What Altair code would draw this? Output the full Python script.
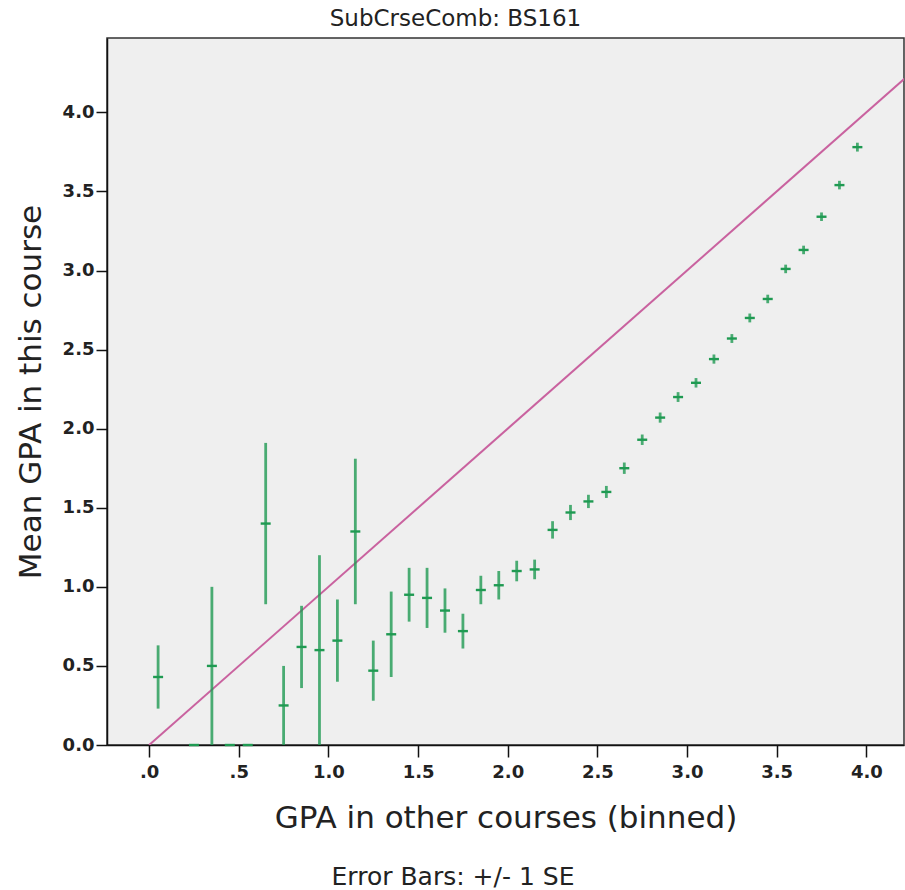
import altair as alt
import pandas as pd

TITLE = "SubCrseComb: BS161"
X_TITLE = "GPA in other courses (binned)"
Y_TITLE = "Mean GPA in this course"
NOTE = "Error Bars: +/- 1 SE"

# binned GPA in other courses (bin centres)
bins = [0.05, 0.25, 0.35, 0.45, 0.55, 0.65, 0.75, 0.85, 0.95, 1.05,
        1.15, 1.25, 1.35, 1.45, 1.55, 1.65, 1.75, 1.85, 1.95, 2.05,
        2.15, 2.25, 2.35, 2.45, 2.55, 2.65, 2.75, 2.85, 2.95, 3.05,
        3.15, 3.25, 3.35, 3.45, 3.55, 3.65, 3.75, 3.85, 3.95]
# mean GPA in this course
means = [0.43, 0.00, 0.50, 0.00, 0.00, 1.40, 0.25, 0.62, 0.60, 0.66,
         1.35, 0.47, 0.70, 0.95, 0.93, 0.85, 0.72, 0.98, 1.01, 1.10,
         1.11, 1.36, 1.47, 1.54, 1.60, 1.75, 1.93, 2.07, 2.20, 2.29,
         2.44, 2.57, 2.70, 2.82, 3.01, 3.13, 3.34, 3.54, 3.78]
# standard errors
ses = [0.20, 0.00, 0.50, 0.00, 0.00, 0.51, 0.25, 0.26, 0.60, 0.26,
       0.46, 0.19, 0.27, 0.17, 0.19, 0.14, 0.11, 0.09, 0.09, 0.065,
       0.062, 0.055, 0.048, 0.042, 0.038, 0.036, 0.033, 0.032, 0.031, 0.030,
       0.029, 0.028, 0.028, 0.027, 0.027, 0.027, 0.027, 0.027, 0.028]

# identity reference line y = x
ref_x = [0.0, 4.5]
ref_y = [0.0, 4.5]

x_ticks = [0.0, 0.5, 1.0, 1.5, 2.0, 2.5, 3.0, 3.5, 4.0]
y_ticks = [0.0, 0.5, 1.0, 1.5, 2.0, 2.5, 3.0, 3.5, 4.0]

GREEN = "#1f9a52"
PINK = "#c9629f"
FONT = "DejaVu Sans"

df = pd.DataFrame({"bin": bins, "mean": means, "se": ses})
df["lo"] = (df["mean"] - df["se"]).clip(lower=0)
df["hi"] = df["mean"] + df["se"]
ref = pd.DataFrame({"bin": ref_x, "mean": ref_y})
note = pd.DataFrame({"t": [NOTE]})

xscale = alt.Scale(domain=[-0.235, 4.21], nice=False, zero=False)
yscale = alt.Scale(domain=[0, 4.47], nice=False, zero=False)

xaxis = alt.Axis(values=x_ticks, tickSize=12, labelPadding=6,
                 labelExpr="datum.value < 1 ? replace(format(datum.value, '.1f'), '0.', '.') : format(datum.value, '.1f')",
                 titlePadding=22)
yaxis = alt.Axis(values=y_ticks, tickSize=11, labelPadding=2, format=".1f",
                 titlePadding=15)

X = alt.X("bin:Q", scale=xscale, axis=xaxis, title=X_TITLE)
Y = alt.Y("mean:Q", scale=yscale, axis=yaxis, title=Y_TITLE)

bars = alt.Chart(df).mark_rule(color=GREEN, strokeWidth=2.8, opacity=0.8).encode(
    x=X,
    y=alt.Y("lo:Q", scale=yscale, axis=yaxis, title=Y_TITLE),
    y2="hi:Q",
)

caps = alt.Chart(df).mark_point(shape="M-1,0L1,0", size=100, filled=False,
                                strokeWidth=2.4, color=GREEN, opacity=1).encode(
    x=X, y=Y
)

line = alt.Chart(ref).mark_line(color=PINK, strokeWidth=2, clip=True).encode(
    x=X, y=Y
)

txt = alt.Chart(note).mark_text(font=FONT, fontSize=25, color="#222222",
                                align="center", baseline="middle").encode(
    x=alt.value(346), y=alt.value(839), text="t:N"
)

chart = alt.layer(line, bars, caps, txt).properties(
    width=797, height=707,
    title=alt.TitleParams(TITLE, font=FONT, fontSize=23, fontWeight="normal",
                          color="#222222", anchor="middle", frame="group",
                          dx=-50, dy=24, offset=8, baseline="bottom"),
    autosize=alt.AutoSizeParams(type="none"),
    padding={"left": 107, "top": 38, "right": 1, "bottom": 145},
).configure_view(
    fill="#efefef", stroke="#333333", strokeWidth=1.5
).configure_axis(
    grid=False, domainColor="#111111", domainWidth=1.5, tickColor="#111111",
    tickWidth=1.5, labelFont=FONT, labelFontSize=18, labelFontWeight="bold",
    labelColor="#222222", titleFont=FONT, titleFontSize=31,
    titleFontWeight="normal", titleColor="#222222"
)

chart.save("out.html", embed_options={"renderer": "svg", "actions": False})
